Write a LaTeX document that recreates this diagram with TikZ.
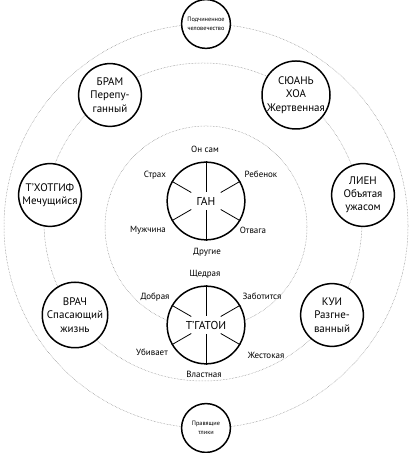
\documentclass[tikz,border=0pt]{standalone}
\usepackage{fontspec}
\setmainfont{PT Sans}
\tikzset{
	ring/.style={draw=gray, line width=0.5pt, dash pattern=on 0.5pt off 1pt},
	hub/.style={circle, draw, line width=1.5pt, fill=white, minimum size=78, inner sep=0pt, font=\fontsize{11.5}{13}\selectfont},
	role/.style={circle, draw, line width=1.5pt, fill=white, minimum size=63, inner sep=0pt, align=center, font=\fontsize{11}{13.3}\selectfont},
	pole/.style={circle, draw, line width=1.5pt, fill=white, minimum size=49, inner sep=0pt, align=center, font=\fontsize{6.3}{9}\selectfont},
	trait/.style={inner sep=0pt, text height=6.3pt, text depth=0pt, font=\fontsize{9}{10}\selectfont},
	spoke/.style={line width=0.8pt}
}

\begin{document}
\begin{tikzpicture}[x=1bp, y=1bp]
	\useasboundingbox (0,0) rectangle (411,453);
	\coordinate (outer) at (206,227);
	\coordinate (mid) at (203,231);
	\coordinate (inner) at (206,226);
	\draw[ring] (outer) circle (202);
	\draw[ring] (mid) circle (159);
	\draw[ring] (inner) circle (101);

	\node[pole] (human) at (206,429) {Подчиненное\\человечество};
	\node[pole] (tlic) at (206,25) {Правящие\\тлики};

	\node[role] (bram) at (110,358) {БРАМ\\Перепу-\\ганный};
	\node[role] (xuan) at (296,358) {СЮАНЬ\\ХОА\\Жертвенная};
	\node[role] (khotgif) at (50,258) {Т’ХОТГИФ\\Мечущийся};
	\node[role] (lien) at (363,258) {ЛИЕН\\Объятая\\ужасом};
	\node[role] (doctor) at (75,138) {ВРАЧ\\Спасающий\\жизнь};
	\node[role] (qui) at (332,138) {КУИ\\Разгне-\\ванный};

	\node[hub] (gan) at (206,252) {ГАН};
	\node[hub] (gatoi) at (206,128) {Т’ГАТОИ};
	\foreach \hb in {gan,gatoi}
		\foreach \a/\r in {90/9,270/9,30/17,150/17,210/17,330/17}
			\draw[spoke] ([shift={(\a:\r)}]\hb.center) -- (\hb.\a);

	% vokrug Gana
	\node[trait] (self) at (205,304) {Он сам};
	\node[trait] (child) at (261,279) {Ребенок};
	\node[trait] (fear) at (155,279) {Страх};
	\node[trait] (man) at (148,224) {Мужчина};
	\node[trait] (courage) at (253,223) {Отвага};
	\node[trait] (others) at (207,202) {Другие};

	% vokrug T'Gatoi
	\node[trait] (generous) at (205,180) {Щедрая};
	\node[trait] (kind) at (155,157) {Добрая};
	\node[trait] (cares) at (262,157) {Заботится};
	\node[trait] (kills) at (152,101) {Убивает};
	\node[trait] (cruel) at (266,98) {Жестокая};
	\node[trait] (power) at (204,79) {Властная};
\end{tikzpicture}
\end{document}
